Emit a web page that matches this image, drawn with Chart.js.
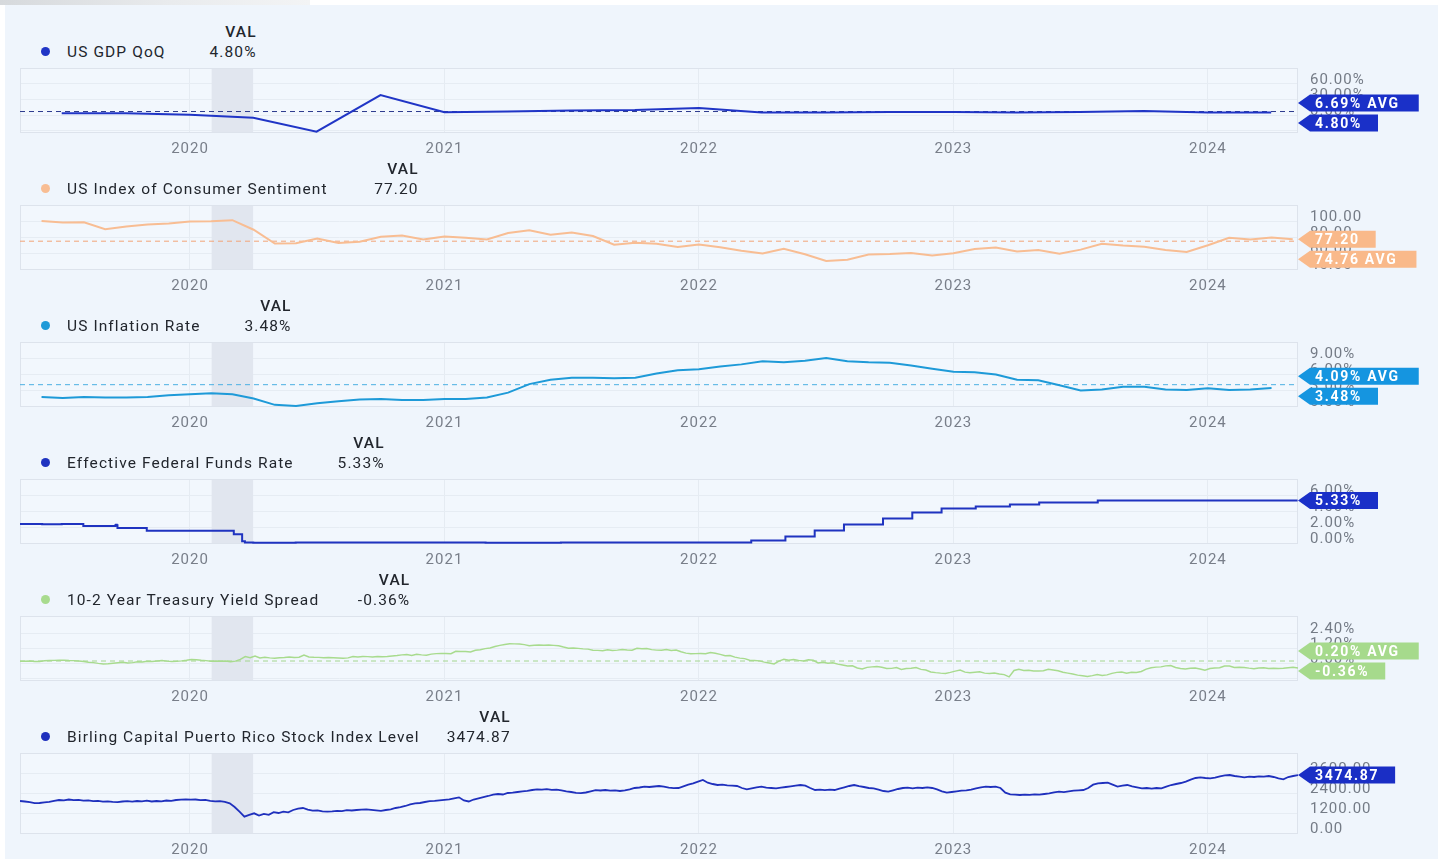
<!DOCTYPE html>
<html>
<head>
<meta charset="utf-8">
<script src="https://cdn.jsdelivr.net/npm/chart.js@4.4.1/dist/chart.umd.min.js"></script>
<style>
html, body { margin: 0; padding: 0; background: #fff; }
body { width: 1445px; height: 859px; position: relative; overflow: hidden; font-family: Roboto, "Noto Sans", sans-serif; }
#page { position: absolute; left: 5px; top: 5px; width: 1433px; height: 854px; background: #eff5fc; }
#strip { position: absolute; left: 0; top: 0; width: 310px; height: 5px; background: linear-gradient(90deg, #d6d9dc, #e9ebed 55%, #f3f4f5); }
.head { position: absolute; left: 36px; border-collapse: collapse; font-size: 15.5px; letter-spacing: 1.1px; color: #22262d; }
.head td { padding: 0; height: 20px; line-height: 20px; white-space: nowrap; }
.head td.v { width: 91px; text-align: right; }
.head .hdr { font-weight: 500; }
.dot { display: inline-block; width: 9px; height: 9px; border-radius: 50%; margin: 0 17px 0 5px; vertical-align: middle; position: relative; top: -1px; }
canvas { position: absolute; left: 0; }
</style>
</head>
<body>
<div id="page"></div>
<div id="strip"></div>
<script>
// x range (decimal years) and shared ticks
const xMin = 2019.332;
const xMax = 2024.354;
const yearTicks = [2020, 2021, 2022, 2023, 2024];
const recession = [2020.085, 2020.248];

// US GDP QoQ (quarterly, %)
const gdpName = 'US GDP QoQ';
const gdpDates = ['2019-07-01','2019-10-01','2020-01-01','2020-04-01','2020-07-01','2020-10-01','2021-01-01','2021-04-01','2021-07-01','2021-10-01',
  '2022-01-01','2022-04-01','2022-07-01','2022-10-01','2023-01-01','2023-04-01','2023-07-01','2023-10-01','2024-01-01','2024-04-01'];
const gdpValues = [3.4, 3.3, 0.4, -5.3, -32.0, 38.4, 5.2, 6.7, 8.7, 9.6, 13.5, 4.6, 4.8, 5.8, 5.8, 4.8, 5.8, 7.7, 4.8, 4.8];
const gdpAvg = 6.69;
const gdpTicks = [-30, 0, 30, 60];

// US Index of Consumer Sentiment (monthly, from Jun 2019)
const sentName = 'US Index of Consumer Sentiment';
const sentStart = [2019, 6];
const sentValues = [100.0, 98.2, 98.4, 89.8, 93.2, 95.5, 96.8, 99.3,
  99.8, 101.0, 89.1, 71.8, 72.3, 78.1, 72.5, 74.1, 80.4, 81.8, 76.9, 80.7,
  79.0, 76.8, 84.9, 88.3, 82.9, 85.5, 81.2, 70.3, 72.8, 71.7, 67.4, 70.6,
  67.2, 62.8, 59.4, 65.2, 58.4, 50.0, 51.5, 58.2, 58.6, 59.9, 56.8, 59.7,
  64.9, 67.0, 62.0, 63.7, 59.0, 64.2, 71.5, 69.4, 67.9, 63.8, 61.3, 69.7,
  79.0, 76.9, 79.4, 77.2];
const sentAvg = 74.76;
const sentTicks = [40, 60, 80, 100];

// US Inflation Rate (monthly, from Jun 2019, %)
const inflName = 'US Inflation Rate';
const inflStart = [2019, 6];
const inflValues = [1.8, 1.6, 1.8, 1.7, 1.7, 1.8, 2.1, 2.3,
  2.5, 2.3, 1.5, 0.3, 0.1, 0.6, 1.0, 1.3, 1.4, 1.2, 1.2, 1.4,
  1.4, 1.7, 2.6, 4.2, 5.0, 5.4, 5.4, 5.3, 5.4, 6.2, 6.8, 7.0,
  7.5, 7.9, 8.5, 8.3, 8.6, 9.1, 8.5, 8.3, 8.2, 7.7, 7.1, 6.5,
  6.4, 6.0, 5.0, 4.9, 4.0, 3.0, 3.2, 3.7, 3.7, 3.2, 3.1, 3.4,
  3.1, 3.2, 3.48];
const inflAvg = 4.09;
const inflTicks = [0, 3, 6, 9];

// Effective Federal Funds Rate (change dates, %)
const fedName = 'Effective Federal Funds Rate';
const fedDates = ['2019-05-02','2019-06-03','2019-07-01','2019-08-01','2019-09-16','2019-09-17','2019-09-18','2019-09-19','2019-10-31',
  '2020-03-04','2020-03-16','2020-03-20','2020-04-01','2020-06-01','2020-07-01','2020-09-01','2021-03-01','2021-05-03','2021-06-17','2021-07-01',
  '2022-03-17','2022-05-05','2022-06-16','2022-07-28','2022-09-22','2022-11-03','2022-12-15','2023-02-02','2023-03-23','2023-05-04','2023-07-27','2024-05-09'];
const fedValues = [2.38, 2.37, 2.40, 2.13, 2.25, 2.30, 2.25, 1.90, 1.55,
  1.10, 0.25, 0.10, 0.05, 0.08, 0.10, 0.09, 0.07, 0.06, 0.10, 0.08,
  0.33, 0.83, 1.58, 2.33, 3.08, 3.83, 4.33, 4.58, 4.83, 5.08, 5.33, 5.33];
const fedTicks = [0, 2, 4, 6];

// 10-2 Year Treasury Yield Spread (weekly, %)
const spreadName = '10-2 Year Treasury Yield Spread';
const spreadValues = [
  0.19, 0.18, 0.20, 0.17, 0.17, 0.22, 0.24, 0.25, 0.26, 0.26, 0.24, 0.23, 0.20, 0.16,
  0.10, 0.07, 0.01, -0.03, -0.02, 0.02, 0.06, 0.10, 0.05, 0.07, 0.13, 0.12, 0.17, 0.16,
  0.20, 0.23, 0.19, 0.16, 0.18, 0.21, 0.26, 0.32,
  0.30, 0.26, 0.23, 0.18, 0.19, 0.18, 0.19, 0.15, 0.19, 0.33, 0.55, 0.47, 0.60,
  0.44, 0.50, 0.45, 0.42, 0.46, 0.48, 0.51, 0.49, 0.50, 0.68, 0.52, 0.50, 0.49,
  0.47, 0.48, 0.46, 0.44, 0.42, 0.45, 0.56, 0.52, 0.56, 0.55, 0.53, 0.55, 0.54,
  0.56, 0.60, 0.64, 0.69, 0.71, 0.65, 0.73, 0.69, 0.67, 0.75, 0.79, 0.80, 0.80, 0.79,
  0.98, 0.96, 0.96, 0.93, 1.06, 1.10, 1.19, 1.24, 1.36, 1.45, 1.52, 1.58, 1.57,
  1.56, 1.51, 1.42, 1.46, 1.48, 1.46, 1.47, 1.45, 1.42, 1.32, 1.23, 1.24, 1.21,
  1.17, 1.15, 1.06, 1.05, 1.02, 1.09, 1.05, 1.07, 1.12, 1.08, 1.07, 1.21,
  1.18, 1.19, 1.11, 1.07, 1.06, 1.11, 1.05, 1.08, 0.94, 0.83, 0.78, 0.79, 0.80, 0.78,
  0.87, 0.82, 0.73, 0.62, 0.63, 0.51, 0.43, 0.39, 0.26, 0.24, 0.21, 0.11, 0.04,
  -0.03, 0.19, 0.33, 0.26, 0.32, 0.25, 0.21, 0.30, 0.26, 0.04, 0.10, 0.03, 0.06,
  -0.05, -0.12, -0.20, -0.18, -0.36, -0.44, -0.31, -0.27, -0.24, -0.30, -0.40, -0.39, -0.33,
  -0.47, -0.40, -0.38, -0.33, -0.47, -0.52, -0.68, -0.73, -0.77, -0.80, -0.71, -0.61, -0.53,
  -0.69, -0.73, -0.70, -0.67, -0.77, -0.80, -0.76, -0.84, -0.89, -1.07, -0.56, -0.47, -0.55,
  -0.54, -0.60, -0.60, -0.58, -0.47, -0.52, -0.58, -0.70, -0.77, -0.84, -0.93, -0.98, -1.04,
  -0.97, -0.88, -0.95, -0.91, -0.79, -0.71, -0.69, -0.78, -0.70, -0.71, -0.64, -0.45,
  -0.34, -0.29, -0.27, -0.19, -0.16, -0.32, -0.40, -0.44, -0.38, -0.36, -0.44, -0.53, -0.40, -0.36,
  -0.34, -0.20, -0.20, -0.32, -0.30, -0.32, -0.37, -0.41, -0.36, -0.34, -0.40, -0.38,
  -0.40, -0.38, -0.34, -0.31, -0.36];
const spreadAvg = 0.20;
const spreadTicks = [-1.2, 0, 1.2, 2.4];

// Birling Capital Puerto Rico Stock Index Level (weekly)
const birlName = 'Birling Capital Puerto Rico Stock Index Level';
const birlValues = [
  1920, 1890, 1850, 1790, 1800, 1840, 1870, 1930, 1980, 1960, 2010, 1970, 1990, 1940, 1960, 1910, 1930, 1880, 1900, 1870,
  1850, 1890, 1910, 1880, 1920, 1900, 1940, 1890, 1920, 1900, 1950, 1930, 1980, 2000, 2020, 2000, 2010, 1970, 1990, 1930,
  1900, 1910, 1870, 1780, 1560, 1280, 980, 1090, 1180, 1050, 1150, 1090, 1250, 1200, 1280, 1240, 1380, 1460, 1500, 1400,
  1340, 1360, 1300, 1280, 1300, 1330, 1310, 1370, 1350, 1380, 1400, 1420, 1390, 1360, 1330, 1380, 1420, 1500, 1550, 1620,
  1720, 1780, 1800, 1860, 1910, 1930, 1960, 1990, 2020, 2080, 2140, 1950, 1890, 2010, 2080, 2150, 2220, 2300, 2340, 2310,
  2400, 2420, 2460, 2500, 2530, 2580, 2620, 2600, 2630, 2590, 2600, 2560, 2500, 2460, 2410, 2390, 2430, 2500, 2570, 2550,
  2580, 2540, 2560, 2520, 2560, 2620, 2700, 2730, 2780, 2760, 2790, 2820, 2780, 2720, 2690, 2700, 2800, 2900, 2980, 3080,
  3180, 3020, 2940, 2880, 2900, 2860, 2840, 2820, 2700, 2620, 2680, 2740, 2780, 2720, 2700, 2680, 2720, 2760, 2800, 2840,
  2880, 2840, 2700, 2580, 2600, 2570, 2600, 2580, 2660, 2740, 2820, 2880, 2810, 2760, 2700, 2680, 2600, 2520, 2480, 2560,
  2640, 2700, 2720, 2680, 2720, 2700, 2740, 2700, 2620, 2500, 2420, 2460, 2500, 2540, 2560, 2600, 2680, 2740, 2780, 2760,
  2780, 2700, 2420, 2320, 2300, 2280, 2300, 2290, 2320, 2300, 2340, 2380, 2440, 2480, 2450, 2500, 2540, 2560, 2580, 2700,
  2900, 2980, 3000, 3020, 2900, 2780, 2840, 2880, 2800, 2740, 2680, 2700, 2660, 2700, 2680, 2780, 2880, 2940, 3000, 3080,
  3200, 3300, 3340, 3300, 3280, 3320, 3400, 3460, 3480, 3420, 3380, 3340, 3380, 3360, 3400, 3380, 3420, 3360, 3280, 3220,
  3360, 3420, 3474.87];
const birlTicks = [0, 1200, 2400, 3600];

function toYear(s) {
  const d = new Date(s + 'T00:00:00Z');
  const y = d.getUTCFullYear();
  return y + (d - Date.UTC(y, 0, 1)) / (Date.UTC(y + 1, 0, 1) - Date.UTC(y, 0, 1));
}
const monthly = (start, vals) => vals.map((v, i) => ({ x: start[0] + (start[1] - 1 + i) / 12, y: v }));
const dated = (dates, vals) => vals.map((v, i) => ({ x: toYear(dates[i]), y: v }));
const evenly = vals => vals.map((v, i) => ({ x: xMin + i * (xMax - xMin) / (vals.length - 1), y: v }));
const pct = v => v.toFixed(2) + '%';
const num = v => v.toFixed(2);

const panels = [
  { name: gdpName, data: dated(gdpDates, gdpValues), avg: gdpAvg, fmt: pct, ticks: gdpTicks, min: -34.6, max: 90.4,
    color: '#2035c6', dash: '#2c3a8e', tag: '#1a30c8', shift: 1 },
  { name: sentName, data: monthly(sentStart, sentValues), avg: sentAvg, fmt: num, ticks: sentTicks, min: 38.75, max: 120,
    color: '#f8bd93', dash: '#f2a478', tag: '#f9b98a', shift: 9 },
  { name: inflName, data: monthly(inflStart, inflValues), avg: inflAvg, fmt: pct, ticks: inflTicks, min: -0.1, max: 12.1,
    color: '#1e9ad8', dash: '#4cb0e2', tag: '#1595e0', shift: 0 },
  { name: fedName, data: dated(fedDates, fedValues), avg: null, fmt: pct, ticks: fedTicks, min: -0.1, max: 8,
    color: '#1f33c0', tag: '#1a30c8', stepped: true },
  { name: spreadName, data: evenly(spreadValues), avg: spreadAvg, fmt: pct, ticks: spreadTicks, min: -1.4, max: 3.8,
    color: '#a8db8e', dash: '#a4d68e', tag: '#a6da8c', shift: -3.5, width: 1.5 },
  { name: birlName, data: evenly(birlValues), avg: null, fmt: num, ticks: birlTicks, min: -60, max: 4800,
    color: '#1f30bd', tag: '#1a2ec5', tall: true, width: 1.8 }
];

Chart.defaults.font.family = 'Roboto, "Noto Sans", sans-serif';
Chart.defaults.font.size = 15;
Chart.defaults.color = '#757c87';

const framePlugin = {
  id: 'frame',
  beforeDraw(chart) {
    const { ctx, chartArea: a } = chart;
    ctx.letterSpacing = '1px';
    ctx.save();
    ctx.fillStyle = '#f2f7fd';
    ctx.fillRect(a.left, a.top, a.right - a.left, a.bottom - a.top);
    ctx.restore();
  },
  beforeDatasetsDraw(chart) {
    const { ctx, chartArea: a, scales: { x } } = chart;
    const x1 = x.getPixelForValue(recession[0]);
    const x2 = x.getPixelForValue(recession[1]);
    ctx.save();
    ctx.fillStyle = '#e1e6ef';
    ctx.fillRect(x1, a.top, x2 - x1, a.bottom - a.top);
    ctx.strokeStyle = '#dde3ec';
    ctx.lineWidth = 1;
    ctx.strokeRect(a.left + 0.5, a.top + 0.5, a.right - a.left - 1, a.bottom - a.top - 1);
    ctx.restore();
  }
};

const tagPlugin = {
  id: 'tags',
  afterDraw(chart, args, opts) {
    const { ctx, chartArea: a, scales: { y } } = chart;
    const tags = opts.items.map(t => ({ ...t, cy: y.getPixelForValue(t.value) }));
    if (tags.length === 2) {
      tags.sort((p, q) => q.value - p.value);
      const mid = (tags[0].cy + tags[1].cy) / 2 + (opts.shift || 0);
      tags[0].cy = mid - 10;
      tags[1].cy = mid + 10;
    }
    ctx.save();
    ctx.font = 'bold 14px Roboto, "Noto Sans", sans-serif';
    ctx.letterSpacing = '1.7px';
    tags.forEach(t => {
      const x0 = a.right;
      const w = ctx.measureText(t.text).width;
      const xr = x0 + 17 + w + (t.avg ? 19 : 16);
      const h = 8.5;
      ctx.fillStyle = opts.color;
      ctx.beginPath();
      ctx.moveTo(x0, t.cy);
      ctx.lineTo(x0 + 12, t.cy - h);
      ctx.lineTo(xr, t.cy - h);
      ctx.lineTo(xr, t.cy + h);
      ctx.lineTo(x0 + 12, t.cy + h);
      ctx.closePath();
      ctx.fill();
      ctx.fillStyle = '#fff';
      ctx.textBaseline = 'middle';
      ctx.textAlign = 'left';
      ctx.fillText(t.text, x0 + 17, t.cy + 1);
    });
    ctx.restore();
  }
};

panels.forEach((p, k) => {
  const plotTop = 68 + 137 * k;
  const H = p.tall ? 81 : 65;
  const canvasH = p.tall ? 114 : 103;
  const last = p.data[p.data.length - 1].y;

  // header: VAL / legend row
  const head = document.createElement('table');
  head.className = 'head';
  head.style.top = (22 + 137 * k) + 'px';
  head.innerHTML = '<tr><td></td><td class="v hdr">VAL</td></tr>' +
    '<tr><td><span class="dot" style="background:' + p.color + '"></span>' + p.name + '</td><td class="v">' + p.fmt(last) + '</td></tr>';
  document.body.appendChild(head);

  const cv = document.createElement('canvas');
  cv.width = 1445;
  cv.height = canvasH;
  cv.style.width = '1445px';
  cv.style.height = canvasH + 'px';
  cv.style.top = (plotTop - 8) + 'px';
  document.body.appendChild(cv);

  const datasets = [{
    data: p.data,
    borderColor: p.color,
    borderWidth: p.width || 2,
    pointRadius: 0,
    stepped: p.stepped || false,
    tension: 0,
    fill: false
  }];
  const tagItems = [{ value: last, text: p.fmt(last) }];
  if (p.avg !== null) {
    datasets.push({
      data: [{ x: xMin, y: p.avg }, { x: xMax, y: p.avg }],
      borderColor: p.dash,
      borderWidth: 1,
      borderDash: [5, 4],
      pointRadius: 0,
      fill: false
    });
    tagItems.push({ value: p.avg, text: p.fmt(p.avg) + ' AVG', avg: true });
  }

  new Chart(cv, {
    type: 'line',
    data: { datasets },
    options: {
      responsive: false,
      animation: false,
      devicePixelRatio: 1,
      layout: { autoPadding: false, padding: { left: 20, right: 0, top: 8, bottom: 0 } },
      plugins: {
        legend: { display: false },
        tooltip: { enabled: false },
        tags: { items: tagItems, color: p.tag, shift: p.shift || 0 }
      },
      scales: {
        x: {
          type: 'linear',
          min: xMin,
          max: xMax,
          afterBuildTicks: s => { s.ticks = yearTicks.map(v => ({ value: v })); },
          afterFit: s => { s.height = canvasH - 8 - H; s.paddingLeft = 0; s.paddingRight = 0; },
          grid: { color: '#e5ebf2', drawTicks: false },
          border: { display: false },
          ticks: { padding: 7, maxRotation: 0, color: '#787e89', callback: v => String(v) }
        },
        y: {
          position: 'right',
          min: p.min,
          max: p.max,
          afterBuildTicks: s => { s.ticks = p.ticks.map(v => ({ value: v })); },
          afterFit: s => { s.width = 147; s.paddingTop = 0; s.paddingBottom = 0; },
          grid: { color: '#e6ecf3', drawTicks: false },
          border: { display: false },
          ticks: { padding: 12, labelOffset: -4, color: '#747b86', callback: v => p.fmt(v) }
        }
      }
    },
    plugins: [framePlugin, tagPlugin]
  });
});
</script>
</body>
</html>
